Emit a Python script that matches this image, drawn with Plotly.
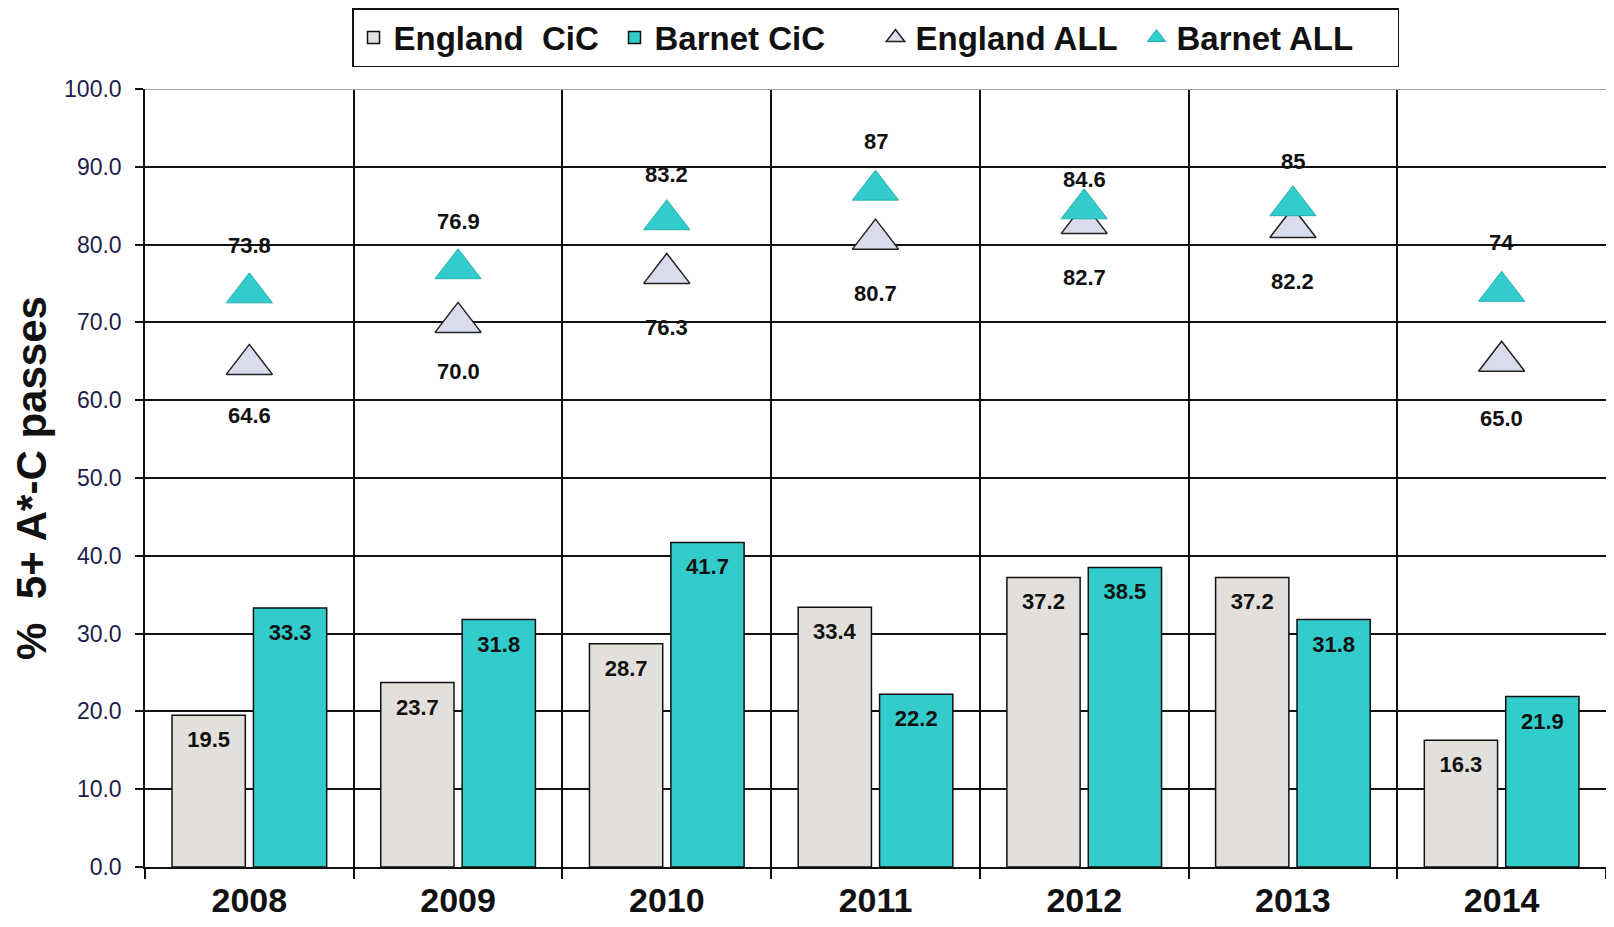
import plotly.graph_objects as go

years = ["2008", "2009", "2010", "2011", "2012", "2013", "2014"]
england_cic = [19.5, 23.7, 28.7, 33.4, 37.2, 37.2, 16.3]
barnet_cic = [33.3, 31.8, 41.7, 22.2, 38.5, 31.8, 21.9]
england_all = [64.6, 70.0, 76.3, 80.7, 82.7, 82.2, 65.0]
barnet_all = [73.8, 76.9, 83.2, 87, 84.6, 85, 74]
england_all_text = ["64.6", "70.0", "76.3", "80.7", "82.7", "82.2", "65.0"]
barnet_all_text = ["73.8", "76.9", "83.2", "87", "84.6", "85", "74"]
y_ticks = [0, 10, 20, 30, 40, 50, 60, 70, 80, 90, 100]

# label pixel offsets (style only)
barnet_label_shift = [47, 47, 45, 49, 29, 44, 49]
england_label_shift = [-51, -49, -54, -54, -54, -54, -57]

TEAL = "#33CCCC"
LIGHT = "#E3E0DB"
LAV = "#D9DCEC"
FONT = "Liberation Sans, Arial, sans-serif"
INK = "#111111"


def bar_text(vals):
    # small blank first line pushes the number down inside the bar
    return [f"&nbsp;<br><span style='font-size:22px'>{v:.1f}</span>" for v in vals]


fig = go.Figure()
fig.add_trace(go.Bar(
    name="England  CiC", x=years, y=england_cic,
    marker=dict(color=LIGHT, line=dict(color=INK, width=1.5)),
    text=bar_text(england_cic), textposition="inside",
    insidetextanchor="end", textangle=0,
    textfont=dict(family=FONT, size=13, color=INK, weight="bold"),
))
fig.add_trace(go.Bar(
    name="Barnet CiC", x=years, y=barnet_cic,
    marker=dict(color=TEAL, line=dict(color=INK, width=1.5)),
    text=bar_text(barnet_cic), textposition="inside",
    insidetextanchor="end", textangle=0,
    textfont=dict(family=FONT, size=13, color=INK, weight="bold"),
))
fig.add_trace(go.Scatter(
    name="England ALL", x=years, y=england_all, mode="markers",
    marker=dict(symbol="triangle-up", size=40, color=LAV,
                line=dict(color="#222222", width=1.5)),
))
fig.add_trace(go.Scatter(
    name="Barnet ALL", x=years, y=barnet_all, mode="markers",
    marker=dict(symbol="triangle-up", size=40, color=TEAL,
                line=dict(color="#26AFAF", width=1)),
))

# value labels for the triangles (x given as the category index)
annotations = []
for i, (v, t, s) in enumerate(zip(barnet_all, barnet_all_text, barnet_label_shift)):
    annotations.append(dict(x=i, y=v, xref="x", yref="y", text=t,
                            showarrow=False, yshift=s,
                            font=dict(family=FONT, size=22, color=INK, weight="bold")))
for i, (v, t, s) in enumerate(zip(england_all, england_all_text, england_label_shift)):
    annotations.append(dict(x=i, y=v, xref="x", yref="y", text=t,
                            showarrow=False, yshift=s,
                            font=dict(family=FONT, size=22, color=INK, weight="bold")))

fig.update_layout(
    width=1598, height=911,
    margin=dict(l=137, r=0, t=81, b=52),
    paper_bgcolor="white", plot_bgcolor="white",
    barmode="group", bargap=0.22, bargroupgap=0.1,
    font=dict(family=FONT, color=INK),
    annotations=annotations,
    shapes=[dict(type="line", xref="paper", x0=0, x1=1, yref="y",
                 y0=y_ticks[-1], y1=y_ticks[-1],
                 line=dict(color="#a8a8a8", width=2))],
    legend=dict(
        orientation="h", x=0.5, xanchor="center", y=1.104, yanchor="top",
        bordercolor=INK, borderwidth=1.5, bgcolor="white",
        font=dict(family=FONT, size=33, color=INK, weight="bold"),
        traceorder="normal", entrywidth=216,
    ),
    xaxis=dict(
        type="category", categoryorder="array", categoryarray=years,
        range=[-0.5, len(years) - 0.5], autorange=False,
        tickson="boundaries", showgrid=True,
        gridcolor=INK, gridwidth=1.5, showline=True,
        linecolor=INK, linewidth=1.5, ticks="outside", ticklen=10,
        tickcolor=INK, tickwidth=1.5, tickangle=0, ticklabelstandoff=2,
        automargin=False,
        tickfont=dict(family=FONT, size=34, color=INK, weight="bold"),
    ),
    yaxis=dict(
        range=[0, 100], tickvals=y_ticks, tickformat=".1f",
        showgrid=True, gridcolor=INK, gridwidth=1.5,
        zeroline=False, showline=True, linecolor=INK, linewidth=1.5,
        ticks="outside", ticklen=8, tickcolor=INK, tickwidth=1.5,
        ticklabelstandoff=9, automargin=False,
        tickfont=dict(family=FONT, size=23, color="#221c4a"),
        title=dict(text="%  5+ A*-C passes", standoff=17,
                   font=dict(family=FONT, size=42, color=INK, weight="bold")),
    ),
)

fig.write_html("out.html")
